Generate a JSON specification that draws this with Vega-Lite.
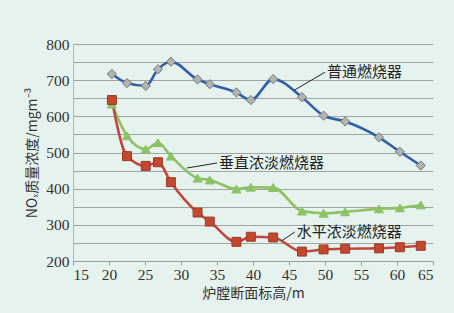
{
  "$schema": "https://vega.github.io/schema/vega-lite/v6.json",
  "width": 360,
  "height": 217,
  "padding": {"left": 73, "top": 44, "right": 21, "bottom": 52},
  "autosize": {"type": "none"},
  "background": "#e6f2ee",
  "config": {"view": {"stroke": null}},
  "datasets": {
    "pts": [
      {"h": 20.4, "v": 717, "s": "普通燃烧器"},
      {"h": 22.5, "v": 692, "s": "普通燃烧器"},
      {"h": 25.1, "v": 684, "s": "普通燃烧器"},
      {"h": 26.8, "v": 730, "s": "普通燃烧器"},
      {"h": 28.6, "v": 751, "s": "普通燃烧器"},
      {"h": 32.3, "v": 702, "s": "普通燃烧器"},
      {"h": 34.0, "v": 689, "s": "普通燃烧器"},
      {"h": 37.7, "v": 666, "s": "普通燃烧器"},
      {"h": 39.7, "v": 645, "s": "普通燃烧器"},
      {"h": 42.8, "v": 703, "s": "普通燃烧器"},
      {"h": 46.8, "v": 653, "s": "普通燃烧器"},
      {"h": 49.8, "v": 602, "s": "普通燃烧器"},
      {"h": 52.8, "v": 586, "s": "普通燃烧器"},
      {"h": 57.5, "v": 542, "s": "普通燃烧器"},
      {"h": 60.4, "v": 502, "s": "普通燃烧器"},
      {"h": 63.3, "v": 464, "s": "普通燃烧器"},
      {"h": 20.4, "v": 634, "s": "垂直浓淡燃烧器"},
      {"h": 22.5, "v": 546, "s": "垂直浓淡燃烧器"},
      {"h": 25.1, "v": 509, "s": "垂直浓淡燃烧器"},
      {"h": 26.8, "v": 527, "s": "垂直浓淡燃烧器"},
      {"h": 28.6, "v": 490, "s": "垂直浓淡燃烧器"},
      {"h": 32.3, "v": 429, "s": "垂直浓淡燃烧器"},
      {"h": 34.0, "v": 424, "s": "垂直浓淡燃烧器"},
      {"h": 37.7, "v": 399, "s": "垂直浓淡燃烧器"},
      {"h": 39.7, "v": 404, "s": "垂直浓淡燃烧器"},
      {"h": 42.8, "v": 403, "s": "垂直浓淡燃烧器"},
      {"h": 46.8, "v": 338, "s": "垂直浓淡燃烧器"},
      {"h": 49.8, "v": 332, "s": "垂直浓淡燃烧器"},
      {"h": 52.8, "v": 336, "s": "垂直浓淡燃烧器"},
      {"h": 57.5, "v": 344, "s": "垂直浓淡燃烧器"},
      {"h": 60.4, "v": 347, "s": "垂直浓淡燃烧器"},
      {"h": 63.3, "v": 355, "s": "垂直浓淡燃烧器"},
      {"h": 20.4, "v": 645, "s": "水平浓淡燃烧器"},
      {"h": 22.5, "v": 490, "s": "水平浓淡燃烧器"},
      {"h": 25.1, "v": 463, "s": "水平浓淡燃烧器"},
      {"h": 26.8, "v": 473, "s": "水平浓淡燃烧器"},
      {"h": 28.6, "v": 418, "s": "水平浓淡燃烧器"},
      {"h": 32.3, "v": 334, "s": "水平浓淡燃烧器"},
      {"h": 34.0, "v": 309, "s": "水平浓淡燃烧器"},
      {"h": 37.7, "v": 253, "s": "水平浓淡燃烧器"},
      {"h": 39.7, "v": 267, "s": "水平浓淡燃烧器"},
      {"h": 42.8, "v": 265, "s": "水平浓淡燃烧器"},
      {"h": 46.8, "v": 226, "s": "水平浓淡燃烧器"},
      {"h": 49.8, "v": 232, "s": "水平浓淡燃烧器"},
      {"h": 52.8, "v": 234, "s": "水平浓淡燃烧器"},
      {"h": 57.5, "v": 235, "s": "水平浓淡燃烧器"},
      {"h": 60.4, "v": 238, "s": "水平浓淡燃烧器"},
      {"h": 63.3, "v": 242, "s": "水平浓淡燃烧器"}
    ],
    "labels": [
      {"h": 50.0, "v": 722, "h2": 45.8, "v2": 673, "s": "普通燃烧器"},
      {"h": 35.0, "v": 471, "h2": 30.8, "v2": 457, "s": "垂直浓淡燃烧器"},
      {"h": 45.8, "v": 280, "h2": 44.0, "v2": 256, "s": "水平浓淡燃烧器"}
    ]
  },
  "encoding": {
    "x": {"field": "h", "type": "quantitative", "scale": {"domain": [15, 65]},
      "axis": {"values": [15,20,25,30,35,40,45,50,55,60,65], "labelOverlap": false, "grid": false,
        "title": "炉膛断面标高/m", "titleFont": "Noto Sans CJK SC", "titleFontSize": 14, "titleFontWeight": "normal", "titleColor": "#333", "titlePadding": 4,
        "labelFont": "Liberation Serif", "labelFontSize": 15.5, "labelColor": "#333", "labelPadding": 2,
        "domainColor": "#9a9a9a", "tickColor": "#9a9a9a", "tickSize": 4}},
    "y": {"field": "v", "type": "quantitative", "scale": {"domain": [200, 800]},
      "axis": {"values": [200,250,300,350,400,450,500,550,600,650,700,750,800], "labelExpr": "datum.value % 100 === 0 ? datum.label : ''", "labelOverlap": false,
        "grid": true, "gridColor": "#9a9a9a", "gridWidth": 0.9, "gridOpacity": 1,
        "title": "NOₓ质量浓度/mgm⁻³", "titleFont": "Noto Sans CJK SC", "titleFontSize": 14, "titleFontWeight": "normal", "titleColor": "#333", "titlePadding": 6,
        "labelFont": "Liberation Serif", "labelFontSize": 15.5, "labelColor": "#333", "labelPadding": 4,
        "domainColor": "#b5b5b5", "ticks": false}}
  },
  "layer": [
    {
      "data": {"name": "pts"},
      "mark": {"type": "line", "interpolate": "monotone", "strokeWidth": 2.6},
      "encoding": {
        "color": {"field": "s", "type": "nominal", "legend": null, "scale": {"domain": ["普通燃烧器", "垂直浓淡燃烧器", "水平浓淡燃烧器"], "range": ["#2f5fa5", "#8cc264", "#c0473a"]}}
      }
    },
    {
      "data": {"name": "pts"},
      "mark": {"type": "point", "filled": true, "opacity": 1, "strokeWidth": 1},
      "encoding": {
        "shape": {"field": "s", "type": "nominal", "legend": null, "scale": {"domain": ["普通燃烧器", "垂直浓淡燃烧器", "水平浓淡燃烧器"], "range": ["diamond", "triangle-up", "square"]}},
        "fill": {"field": "s", "type": "nominal", "legend": null, "scale": {"domain": ["普通燃烧器", "垂直浓淡燃烧器", "水平浓淡燃烧器"], "range": ["#b4b4aa", "#8cc264", "#c4472f"]}},
        "stroke": {"field": "s", "type": "nominal", "legend": null, "scale": {"domain": ["普通燃烧器", "垂直浓淡燃烧器", "水平浓淡燃烧器"], "range": ["#6a7a8a", "#8cc264", "#9a3a2a"]}},
        "size": {"field": "s", "type": "nominal", "legend": null, "scale": {"domain": ["普通燃烧器", "垂直浓淡燃烧器", "水平浓淡燃烧器"], "range": [85, 80, 95]}}
      }
    },
    {
      "data": {"name": "labels"},
      "mark": {"type": "rule", "color": "#222", "strokeWidth": 1},
      "encoding": {
        "x2": {"field": "h2"},
        "y2": {"field": "v2"}
      }
    },
    {
      "data": {"name": "labels"},
      "mark": {"type": "text", "align": "left", "baseline": "middle", "font": "Noto Sans CJK SC", "fontSize": 15, "color": "#222", "dx": 2},
      "encoding": {
        "text": {"field": "s"}
      }
    }
  ]
}
